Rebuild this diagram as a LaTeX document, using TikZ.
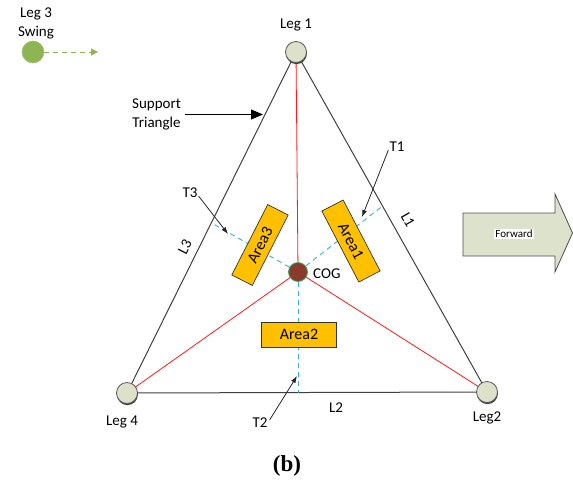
\documentclass[tikz,border=0pt]{standalone}
\usepackage{fontspec}
\setmainfont{Carlito}
\newfontfamily\serifb{Liberation Serif}
\usetikzlibrary{calc,arrows.meta,shadows}
\pgfdeclarelayer{background}
\pgfsetlayers{background,main}
\definecolor{legfill}{HTML}{DDE1C9}
\definecolor{legdraw}{HTML}{5A5A5A}
\definecolor{areafill}{HTML}{FFC000}
\definecolor{cogfill}{HTML}{8B3A2E}
\definecolor{cogdraw}{HTML}{3DAA5A}
\definecolor{perpblue}{HTML}{3AAEE0}
\definecolor{swinggreen}{HTML}{8DB554}
\definecolor{fwdfill}{HTML}{DDE2CC}
\definecolor{edgegray}{HTML}{404040}
\tikzset{
  lbl/.style={font=\fontsize{15}{19}\selectfont, inner sep=0pt, align=center},
  leg/.style={circle, minimum size=21pt, inner sep=0pt, fill=legfill, draw=legdraw, line width=0.8pt,
    drop shadow={shadow xshift=0.4pt, shadow yshift=-1.6pt, fill=black!75, opacity=1}},
  area/.style={draw=black!80, line width=0.7pt, fill=areafill, inner sep=0pt,
    font=\fontsize{16}{18}\selectfont},
  side/.style={edgegray, line width=1pt},
  redline/.style={red!90!white, line width=0.8pt},
  perp/.style={perpblue, dashed, dash pattern=on 5pt off 4pt, line width=0.9pt},
  tarrow/.style={black!85, line width=0.8pt, -{Latex[length=7pt,width=5pt]}},
}
\begin{document}
\begin{tikzpicture}[x=1pt,y=-1pt]
\useasboundingbox (0,0) rectangle (573,488);

% legs
\node[leg] (L1) at (296,52) {};
\node[leg] (L4) at (127,393) {};
\node[leg] (L2) at (487,392) {};
\node[lbl] (L1t) at (296,25) {Leg 1};
\node[lbl] (L4t) at (122,422) {Leg 4};
\node[lbl] (L2t) at (487,418) {Leg2};

% COG
\node[circle, minimum size=19pt, inner sep=0pt, fill=cogfill, draw=cogdraw, line width=0.8pt] (COG) at (298,272) {};
\node[lbl, anchor=west] (COGt) at (313,274) {COG};

% feet of perpendiculars
\coordinate (f3) at ($(L1)!0.501!(L4)$);
\coordinate (f1) at ($(L1)!0.453!(L2)$);
\coordinate (f2) at (298,393);

\begin{pgfonlayer}{background}
  \draw[side] (L1.center) -- (L4.center) -- (L2.center) -- cycle;
  \draw[redline] (COG.center) -- (L1.center);
  \draw[redline] (COG.center) -- (L4.center);
  \draw[redline] (COG.center) -- (L2.center);
  \draw[perp] (COG) -- (f3);
  \draw[perp] (COG) -- (f1);
  \draw[perp] (COG) -- (f2);
\end{pgfonlayer}

% areas
\node[area, rotate=63, minimum width=79pt, minimum height=23pt] (A3) at (260,245) {Area3};
\node[area, rotate=-62.5, minimum width=80pt, minimum height=24pt] (A1) at (351,241) {Area1};
\node[area, minimum width=75pt, minimum height=25pt] (A2) at (299,334.5) {Area2};

% side labels
\node[lbl, rotate=-60] (l1) at (408,220) {L1};
\node[lbl, rotate=63] (l3) at (185,247) {L3};
\node[lbl] (l2) at (336,408) {L2};

% T labels and arrows
\node[lbl] (T1) at (397,147) {T1};
\node[lbl] (T3) at (190,193) {T3};
\node[lbl] (T2) at (260,423) {T2};
\coordinate (t1tip) at (362,217);
\coordinate (t3tip) at (228,234);
\coordinate (t2tip) at (297,376);
\draw[tarrow] ([xshift=-1pt,yshift=2pt]T1.south west) -- (t1tip);
\draw[tarrow] ([xshift=1pt,yshift=2pt]T3.south east) -- (t3tip);
\draw[tarrow] ([xshift=2pt,yshift=-2pt]T2.north east) -- (t2tip);

% support triangle
\node[lbl] (ST) at (156.5,114.5) {Support\\Triangle};
\coordinate (sttip) at (263,114.5);
\draw[black, line width=1pt, -{Triangle[length=12pt,width=10pt]}] ([xshift=4pt]ST.east) -- (sttip);

% leg 3 swing
\node[lbl] (SW) at (36,23) {Leg 3\\Swing};
\node[circle, minimum width=20pt, minimum height=22pt, inner sep=0pt, fill=swinggreen, draw=swinggreen!80!white, line width=0.6pt] (G) at (33,52) {};
\coordinate (gtip) at (98,52);
\draw[swinggreen, line width=1pt, dash pattern=on 5pt off 4pt, -{Triangle[length=7pt,width=7pt]}] (G) -- (gtip);

% forward arrow
\draw[fill=fwdfill, draw=black!70, line width=0.8pt]
  (463,213) -- (555,213) -- (555,194) -- (572.5,233) -- (555,272) -- (555,256) -- (463,256) -- cycle;
\node[fill=white, inner sep=1.5pt, font=\fontsize{11}{13}\selectfont] (FW) at (514,234) {Forward};

% caption
\node[font=\serifb\bfseries\fontsize{23}{27}\selectfont, inner sep=0pt] (cap) at (287,466) {(b)};
\end{tikzpicture}
\end{document}
